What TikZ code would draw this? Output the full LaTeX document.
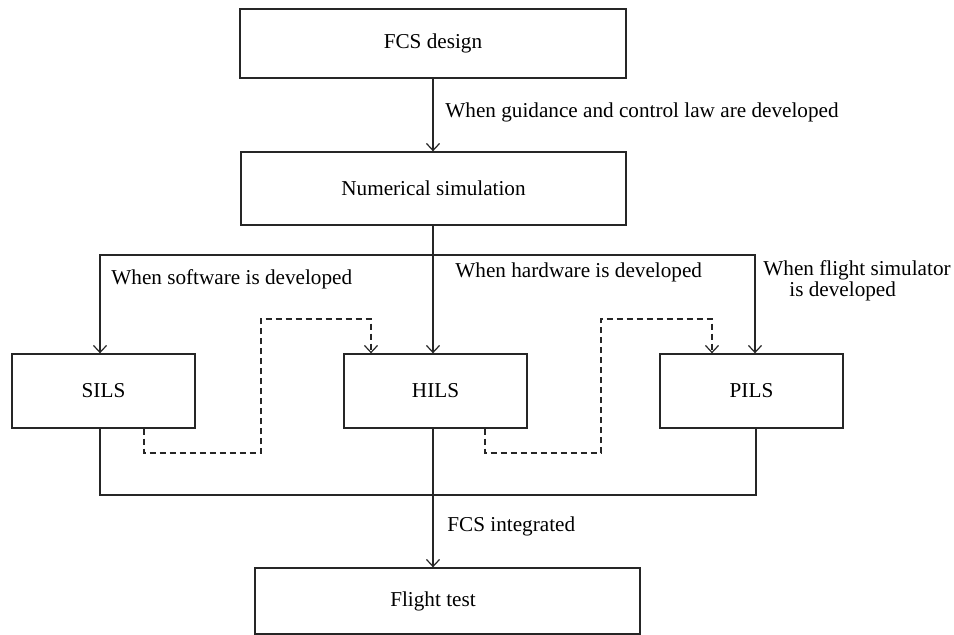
\documentclass[tikz,border=0pt]{standalone}
\usepackage{fontspec}
\setmainfont{Liberation Serif}
\usetikzlibrary{arrows.meta,calc}

\begin{document}
\begin{tikzpicture}[x=0.5pt,y=-0.5pt,
  every node/.style={font=\fontsize{10.6}{10.5}\selectfont},
  box/.style={draw=black!85,line width=0.65pt,inner sep=0pt},
  line/.style={draw=black!85,line width=0.65pt},
  arr/.style={line,-{Straight Barb[length=3.5pt,width=6.5pt,line width=0.6pt]}},
  darr/.style={arr,dash pattern=on 3pt off 2pt},
  lbl/.style={anchor=base west,inner sep=0pt,align=left}]
\useasboundingbox (0,0) rectangle (954,635);

% process boxes
\node[box,minimum width=193pt,minimum height=34.5pt] (fcs) at (433,43.5) {FCS design};
\node[box,minimum width=192.5pt,minimum height=36.5pt] (num) at (433.5,188.5) {Numerical simulation};
\node[box,minimum width=91.5pt,minimum height=37pt] (sils) at (103.5,391) {SILS};
\node[box,minimum width=91.5pt,minimum height=37pt] (hils) at (435.5,391) {HILS};
\node[box,minimum width=91.5pt,minimum height=37pt] (pils) at (751.5,391) {PILS};
\node[box,minimum width=192.5pt,minimum height=33pt] (flight) at (447.5,601) {Flight test\hspace*{14.5pt}};

% main flow
\draw[arr] (fcs.south) -- (fcs.south |- num.north);
\coordinate (split) at (433,255);
\draw[arr] ($(num.south)+(-0.5,0)$) -- ($(hils.north)+(-2.5,0)$);
\draw[arr] (split) -| ($(sils.north)+(-3.5,0)$);
\draw[arr] (split) -| ($(pils.north)+(3.5,0)$);

% optional transitions between simulation stages
\draw[darr] ($(sils.south)+(40.5,0)$) |- (261,453) -- (261,319) -| ($(hils.north)+(-64.5,0)$);
\draw[darr] ($(hils.south)+(49.5,0)$) |- (601,453) -- (601,319) -| ($(pils.north)+(-39.5,0)$);

% integration into the flight test
\draw[line] ($(sils.south)+(-3.5,0)$) |- (756,495) -- ($(pils.south)+(4.5,0)$);
\draw[arr] ($(hils.south)+(-2.5,0)$) -- ($(flight.north)+(-14.5,0)$);

% transition labels
\node[lbl] (lg) at (445,118) {When guidance and control law are developed};
\node[lbl] (ls) at (111,285) {When software is developed};
\node[lbl] (lh) at (455,278) {When hardware is developed};
\node[lbl] (lf) at (763,297) {When flight simulator\\\hspace*{13pt}is developed};
\node[lbl] (li) at (447,532) {FCS integrated};
\end{tikzpicture}
\end{document}
